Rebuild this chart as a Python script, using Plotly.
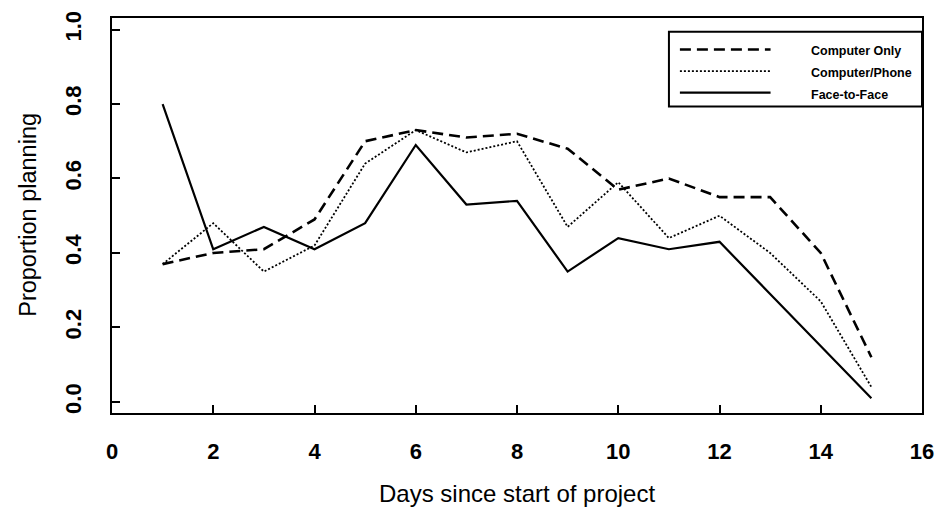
import plotly.graph_objects as go

days = list(range(1, 16))
computer_only = [0.37, 0.40, 0.41, 0.49, 0.70, 0.73, 0.71, 0.72, 0.68, 0.57, 0.60, 0.55, 0.55, 0.40, 0.12]
computer_phone = [0.37, 0.48, 0.35, 0.42, 0.64, 0.73, 0.67, 0.70, 0.47, 0.59, 0.44, 0.50, 0.40, 0.27, 0.04]
face_to_face = [0.80, 0.41, 0.47, 0.41, 0.48, 0.69, 0.53, 0.54, 0.35, 0.44, 0.41, 0.43, 0.29, 0.15, 0.01]

series_names = ["Computer Only", "Computer/Phone", "Face-to-Face"]
x_ticks = [0, 2, 4, 6, 8, 10, 12, 14, 16]
y_ticks = [0.0, 0.2, 0.4, 0.6, 0.8, 1.0]
y_tick_text = ["0.0", "0.2", "0.4", "0.6", "0.8", "1.0"]

styles = [
    dict(color="black", width=2.6, dash="11px,6px"),
    dict(color="black", width=1.8, dash="2px,2px"),
    dict(color="black", width=2.2, dash="solid"),
]

fig = go.Figure()
for name, vals, st in zip(series_names, [computer_only, computer_phone, face_to_face], styles):
    fig.add_trace(go.Scatter(x=days, y=vals, mode="lines", name=name, line=st, showlegend=False))

FONT = "Arial, Liberation Sans, Helvetica, sans-serif"

fig.update_layout(
    width=945, height=518,
    margin=dict(l=112, r=20, t=11, b=105),
    paper_bgcolor="white", plot_bgcolor="white",
    font=dict(family=FONT, color="black"),
    showlegend=False,
)
fig.update_xaxes(
    range=[0, 16], tickvals=x_ticks, ticktext=[str(v) for v in x_ticks],
    showgrid=False, zeroline=False, showline=True, linecolor="black", linewidth=2,
    mirror=True, ticks="inside", ticklen=8, tickwidth=2, tickcolor="black",
    tickfont=dict(size=22, family=FONT, weight="bold"), ticklabelstandoff=18,
)
fig.update_yaxes(
    range=[-0.0298, 1.031], tickvals=y_ticks, ticktext=y_tick_text, tickangle=-90,
    showgrid=False, zeroline=False, showline=True, linecolor="black", linewidth=2,
    mirror=True, ticks="inside", ticklen=8, tickwidth=2, tickcolor="black",
    tickfont=dict(size=22, family=FONT, weight="bold"), ticklabelstandoff=20,
)

# axis titles
fig.add_annotation(text="Days since start of project", xref="paper", yref="paper",
                   x=0.5006, y=-0.204, showarrow=False, font=dict(size=24, family=FONT),
                   xanchor="center", yanchor="middle")
fig.add_annotation(text="Proportion planning", xref="paper", yref="paper",
                   x=-0.1046, y=0.5025, showarrow=False, textangle=-90,
                   font=dict(size=23.5, family=FONT), xanchor="center", yanchor="middle")

# legend box (drawn manually)
def px_x(p):
    return (p - 112) / 813
def px_y(p):
    return (413 - p) / 402

fig.add_shape(type="rect", xref="paper", yref="paper",
              x0=px_x(671), x1=1.0, y0=px_y(101), y1=px_y(25),
              line=dict(color="black", width=2), fillcolor="white", layer="above")
row_y = [45, 67, 89]
for name, st, ry in zip(series_names, styles, row_y):
    fig.add_shape(type="line", xref="paper", yref="paper",
                  x0=px_x(682), x1=px_x(773), y0=px_y(ry - 2), y1=px_y(ry - 2),
                  line=dict(color="black", width=st["width"], dash=st["dash"]), layer="above")
    fig.add_annotation(text=name, xref="paper", yref="paper", x=px_x(812), y=px_y(ry),
                       showarrow=False, xanchor="left", yanchor="middle",
                       font=dict(size=12.5, family=FONT, weight="bold"))

fig.write_html("out.html")
